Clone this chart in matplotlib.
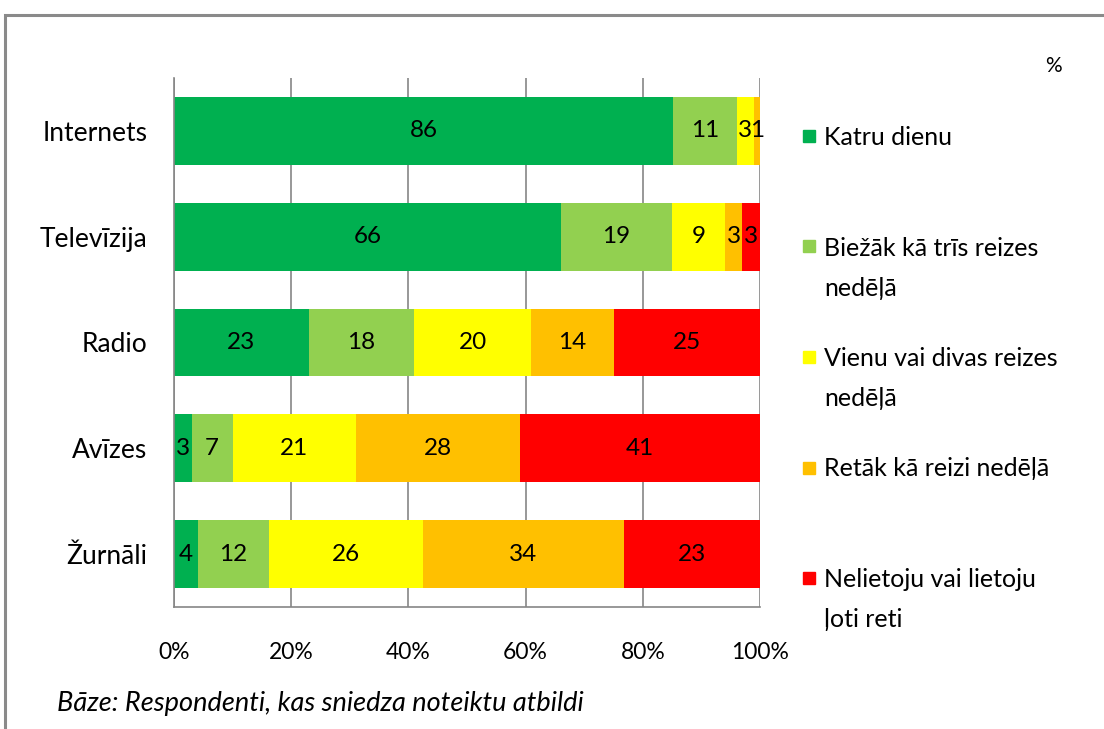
import matplotlib
matplotlib.use("Agg")
import matplotlib.pyplot as plt
from matplotlib.patches import Rectangle
import numpy as np

plt.rcParams['font.family'] = ['Lato', 'DejaVu Sans']

categories = ["Internets", "Televīzija", "Radio", "Avīzes", "Žurnāli"]
series_names = ["Katru dienu", "Biežāk kā trīs reizes\nnedēļā",
                "Vienu vai divas reizes\nnedēļā", "Retāk kā reizi nedēļā",
                "Nelietoju vai lietoju\nļoti reti"]
colors = ["#00B050", "#92D050", "#FFFF00", "#FFC000", "#FF0000"]
values = [
    [86, 66, 23, 3, 4],    # Katru dienu
    [11, 19, 18, 7, 12],   # Biežāk kā trīs reizes nedēļā
    [3, 9, 20, 21, 26],    # Vienu vai divas reizes nedēļā
    [1, 3, 14, 28, 34],    # Retāk kā reizi nedēļā
    [0, 3, 25, 41, 23],    # Nelietoju vai lietoju ļoti reti
]
xticks = [0, 20, 40, 60, 80, 100]
xtick_labels = ["0%", "20%", "40%", "60%", "80%", "100%"]

W, H = 1104, 729
fig = plt.figure(figsize=(W / 100, H / 100), dpi=100)
ax = fig.add_axes([174 / W, 1 - 607 / H, (760 - 174) / W, (607 - 78) / H])

vals = np.array(values, dtype=float)
totals = vals.sum(axis=0)
pct = vals / totals * 100
y = np.arange(len(categories))
left = np.zeros(len(categories))
for i in range(len(series_names)):
    ax.barh(y, pct[i], left=left, height=0.64, color=colors[i], zorder=2)
    for j in range(len(categories)):
        if vals[i, j] > 0:
            ax.text(left[j] + pct[i, j] / 2, y[j], f"{int(vals[i, j])}",
                    ha="center", va="center", fontsize=17.5, color="black", zorder=3)
    left += pct[i]

ax.set_xlim(0, 100)
ax.set_ylim(len(categories) - 0.5, -0.5)
ax.set_yticks(y)
ax.set_yticklabels(categories, fontsize=19)
ax.set_xticks(xticks)
ax.set_xticklabels(xtick_labels, fontsize=16.5)
ax.tick_params(axis="y", length=0, pad=19)
ax.tick_params(axis="x", length=0, pad=25)
ax.xaxis.grid(True, color="#868686", linewidth=1.2, zorder=0)
ax.set_axisbelow(True)
for s in ["top", "right"]:
    ax.spines[s].set_visible(False)
for s in ["left", "bottom"]:
    ax.spines[s].set_color("#868686")
    ax.spines[s].set_linewidth(1.2)

# legend (manual, marker aligned to first line)
leg_y0 = 136
leg_step = 110.5
for i, (name, c) in enumerate(zip(series_names, colors)):
    yy = leg_y0 + i * leg_step
    fig.patches.append(Rectangle((803 / W, 1 - (yy + 6) / H), 12 / W, 12 / H,
                                 transform=fig.transFigure, color=c))
    fig.text(824 / W, 1 - (yy - 10) / H, name, ha="left", va="top",
             fontsize=18, linespacing=1.9)

fig.text(1053 / W, 1 - 66 / H, "%", ha="center", va="center", fontsize=15)
fig.text(57 / W, 1 - 703 / H, "Bāze: Respondenti, kas sniedza noteiktu atbildi",
         ha="left", va="center", fontsize=19.5, style="italic")

# outer frame
fig.patches.append(Rectangle((5 / W, -0.05), 1.2, 1 - 15 / H + 0.05,
                             transform=fig.transFigure, fill=False,
                             edgecolor="#8a8a8a", linewidth=2.2))

fig.savefig("out.png", dpi=100)
